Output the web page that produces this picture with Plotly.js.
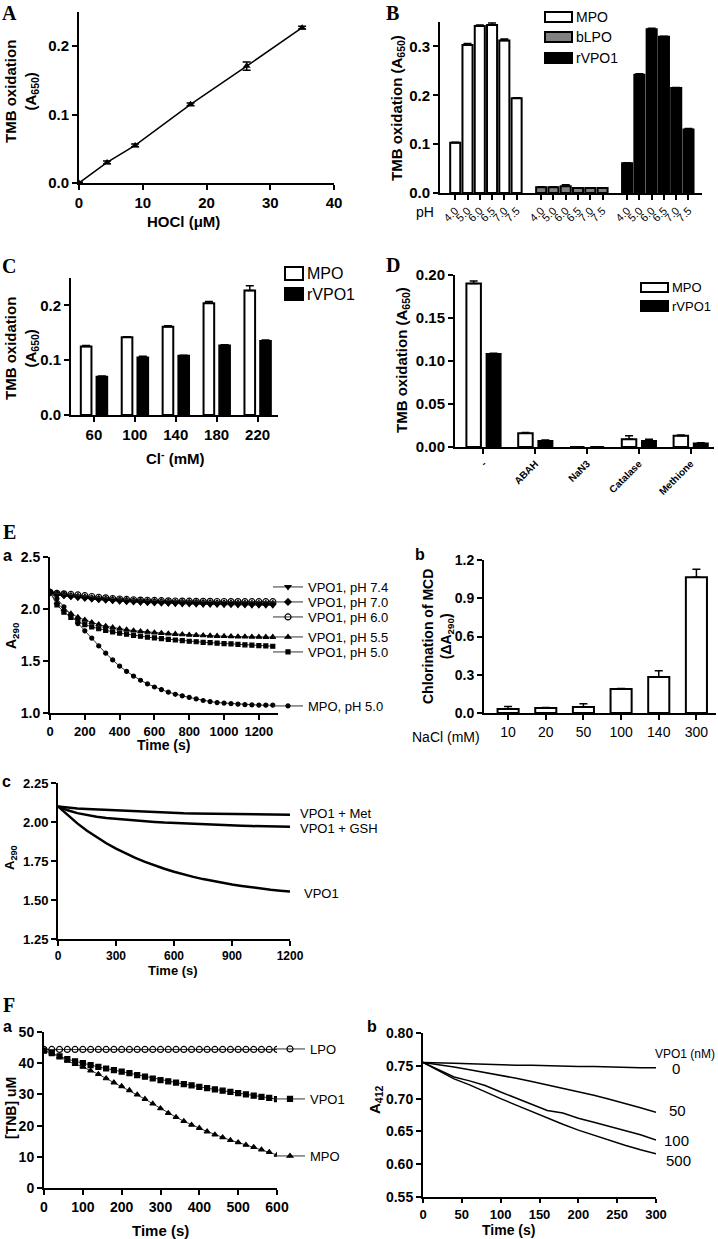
<!DOCTYPE html>
<html>
<head>
<meta charset="utf-8">
<script src="https://cdn.plot.ly/plotly-3.0.1.min.js"></script>
<style>
  body { margin: 0; background: #fff; }
  #fig { width: 718px; height: 1239px; }
</style>
</head>
<body>
<div id="fig"></div>
<script>
// ---- A: HOCl standard curve
var hoclConc = [0, 4.4, 8.8, 17.5, 26.3, 35.0];
var hoclA650 = [0.0, 0.030, 0.055, 0.115, 0.171, 0.227];
var hoclErr = [0.001, 0.002, 0.002, 0.002, 0.006, 0.002];

// ---- B: pH profile
var phLabels = ["4.0", "5.0", "6.0", "6.5", "7.0", "7.5"];
var bMPO = [0.103, 0.303, 0.342, 0.344, 0.312, 0.194];
var bMPOErr = [0.001, 0.003, 0.002, 0.004, 0.003, 0.001];
var bLPO = [0.012, 0.012, 0.014, 0.010, 0.010, 0.010];
var bLPOErr = [0.001, 0.001, 0.003, 0.001, 0.001, 0.001];
var bVPO1 = [0.061, 0.242, 0.335, 0.320, 0.215, 0.130];
var bVPO1Err = [0.001, 0.002, 0.002, 0.001, 0.001, 0.002];

// ---- C: chloride dependence
var clConc = ["60", "100", "140", "180", "220"];
var cMPO = [0.125, 0.142, 0.161, 0.204, 0.227];
var cMPOErr = [0.002, 0.001, 0.002, 0.003, 0.009];
var cVPO1 = [0.070, 0.105, 0.108, 0.127, 0.135];
var cVPO1Err = [0.001, 0.002, 0.001, 0.001, 0.002];

// ---- D: inhibitors
var inhibitors = ["-", "ABAH", "NaN3", "Catalase", "Methione"];
var dMPO = [0.190, 0.016, 0.0, 0.009, 0.013];
var dMPOErr = [0.003, 0.001, 0.0, 0.004, 0.001];
var dVPO1 = [0.108, 0.007, 0.0, 0.007, 0.004];
var dVPO1Err = [0.001, 0.001, 0.0, 0.002, 0.001];

// ---- E a: MCD chlorination kinetics
var eaTime = [0, 40, 80, 120, 160, 200, 240, 280, 320, 360, 400, 440, 480, 520, 560, 600, 640,
  680, 720, 760, 800, 840, 880, 920, 960, 1000, 1040, 1080, 1120, 1160, 1200, 1240, 1280];
var eaPH74 = [2.16, 2.14, 2.128, 2.118, 2.11, 2.102, 2.095, 2.089, 2.083, 2.078, 2.074, 2.07, 2.066,
  2.063, 2.06, 2.057, 2.055, 2.053, 2.051, 2.049, 2.047, 2.046, 2.044, 2.043, 2.042, 2.041, 2.04,
  2.039, 2.038, 2.037, 2.036, 2.035, 2.035];
var eaPH70 = [2.16, 2.145, 2.135, 2.125, 2.117, 2.11, 2.103, 2.097, 2.092, 2.087, 2.083, 2.079, 2.076,
  2.073, 2.07, 2.068, 2.066, 2.064, 2.062, 2.061, 2.06, 2.058, 2.057, 2.056, 2.055, 2.054, 2.053,
  2.052, 2.051, 2.05, 2.05, 2.049, 2.049];
var eaPH60 = [2.16, 2.15, 2.145, 2.14, 2.135, 2.128, 2.12, 2.113, 2.107, 2.101, 2.096, 2.092, 2.089,
  2.086, 2.084, 2.082, 2.08, 2.078, 2.077, 2.076, 2.075, 2.074, 2.073, 2.073, 2.072, 2.072, 2.071,
  2.071, 2.07, 2.07, 2.07, 2.07, 2.07];
var eaPH55 = [2.16, 2.06, 1.995, 1.955, 1.92, 1.895, 1.87, 1.85, 1.835, 1.822, 1.81, 1.80, 1.792,
  1.785, 1.779, 1.773, 1.768, 1.763, 1.759, 1.755, 1.751, 1.748, 1.745, 1.742, 1.74, 1.738, 1.736,
  1.734, 1.733, 1.732, 1.731, 1.73, 1.73];
var eaPH50 = [2.16, 2.04, 1.97, 1.92, 1.88, 1.85, 1.828, 1.81, 1.795, 1.78, 1.768, 1.757, 1.747,
  1.738, 1.73, 1.722, 1.715, 1.708, 1.702, 1.696, 1.69, 1.685, 1.68, 1.676, 1.672, 1.668, 1.664,
  1.66, 1.656, 1.652, 1.648, 1.645, 1.642];
var eaMPO = [2.16, 2.10, 2.02, 1.94, 1.86, 1.79, 1.72, 1.645, 1.575, 1.51, 1.45, 1.40, 1.355,
  1.315, 1.28, 1.25, 1.225, 1.20, 1.18, 1.165, 1.15, 1.135, 1.12, 1.11, 1.10, 1.095, 1.09,
  1.085, 1.08, 1.078, 1.076, 1.075, 1.075];

// ---- E b: NaCl dependence
var naclConc = ["10", "20", "50", "100", "140", "300"];
var ebMCD = [0.031, 0.040, 0.047, 0.188, 0.283, 1.065];
var ebErr = [0.020, 0.004, 0.026, 0.005, 0.048, 0.063];

// ---- E c: scavengers
var ecTime = [0, 50, 100, 150, 200, 250, 300, 350, 400, 450, 500, 550, 600, 650, 700, 750, 800,
  850, 900, 950, 1000, 1050, 1100, 1150, 1200];
var ecMet = [2.100, 2.092, 2.087, 2.083, 2.080, 2.078, 2.075, 2.072, 2.069, 2.066, 2.063, 2.060,
  2.058, 2.056, 2.055, 2.054, 2.053, 2.052, 2.051, 2.050, 2.049, 2.048, 2.048, 2.047, 2.047];
var ecGSH = [2.100, 2.075, 2.057, 2.043, 2.033, 2.026, 2.020, 2.014, 2.009, 2.004, 2.000, 1.996,
  1.993, 1.990, 1.987, 1.984, 1.982, 1.980, 1.978, 1.976, 1.974, 1.972, 1.971, 1.970, 1.969];
var ecVPO1 = [2.100, 2.043, 1.991, 1.944, 1.902, 1.864, 1.829, 1.798, 1.770, 1.744, 1.721, 1.700,
  1.681, 1.663, 1.648, 1.634, 1.621, 1.610, 1.599, 1.590, 1.581, 1.573, 1.566, 1.560, 1.554];

// ---- F a: TNB oxidation
var faTime = [0, 20, 40, 60, 80, 100, 120, 140, 160, 180, 200, 220, 240, 260, 280, 300, 320, 340,
  360, 380, 400, 420, 440, 460, 480, 500, 520, 540, 560, 580, 600];
var faLPO = [44.4, 44.4, 44.4, 44.4, 44.4, 44.4, 44.4, 44.4, 44.4, 44.4, 44.4, 44.4, 44.4, 44.4,
  44.4, 44.4, 44.4, 44.4, 44.4, 44.4, 44.4, 44.4, 44.4, 44.4, 44.4, 44.4, 44.4, 44.4, 44.4, 44.4, 44.4];
var faVPO1 = [44.0, 43.2, 42.2, 41.3, 40.6, 40.0, 39.4, 38.8, 38.3, 37.8, 37.3, 36.8, 36.2, 35.7,
  35.1, 34.6, 34.2, 33.8, 33.3, 32.9, 32.4, 32.0, 31.6, 31.2, 30.8, 30.4, 30.0, 29.6, 29.2, 28.9, 28.5];
var faMPO = [44.0, 43.3, 42.0, 40.7, 39.7, 38.8, 37.6, 36.5, 35.1, 33.8, 32.6, 31.3, 29.9, 28.5,
  27.0, 25.5, 24.0, 22.7, 21.4, 20.2, 19.2, 18.1, 17.1, 16.2, 15.3, 14.6, 13.8, 13.1, 12.3, 11.5, 10.6];

// ---- F b: VPO1 dose
var fbTime = [0, 20, 40, 60, 80, 100, 120, 140, 160, 180, 200, 220, 240, 260, 280, 300];
var fb0 = [0.755, 0.755, 0.754, 0.753, 0.752, 0.752, 0.751, 0.751, 0.750, 0.750, 0.749, 0.749,
  0.748, 0.748, 0.747, 0.747];
var fb50 = [0.755, 0.752, 0.748, 0.744, 0.740, 0.735, 0.731, 0.726, 0.721, 0.716, 0.711, 0.705,
  0.699, 0.693, 0.686, 0.679];
var fb100 = [0.755, 0.744, 0.733, 0.727, 0.720, 0.710, 0.701, 0.692, 0.682, 0.678, 0.670, 0.664,
  0.658, 0.652, 0.645, 0.637];
var fb500 = [0.755, 0.742, 0.730, 0.721, 0.710, 0.700, 0.690, 0.680, 0.670, 0.661, 0.652, 0.644,
  0.636, 0.629, 0.622, 0.616];

var W = 718, H = 1239;
var SANS = "Liberation Sans, Arial, sans-serif";
var SERIF = "Liberation Serif, Times New Roman, serif";

function px(x) { return x / W; }
function py(y) { return 1 - y / H; }
function domX(a, b) { return [a / W, b / W]; }
function domY(top, bottom) { return [1 - bottom / H, 1 - top / H]; }

function axis(extra, size, weight) {
  var a = {
    showline: true, linecolor: "black", linewidth: 2,
    ticks: "outside", ticklen: 5, tickwidth: 2, tickcolor: "black",
    showgrid: false, zeroline: false, fixedrange: true,
    tickfont: { family: SANS, size: size || 14, color: "black", weight: weight || "bold" }
  };
  return Object.assign(a, extra);
}

function upErr(err) {
  return { type: "data", array: err, arrayminus: err.map(function () { return 0; }),
    symmetric: false, color: "black", thickness: 1.5, width: 4 };
}

function bars(x, y, err, fill, xa, ya, offset, width) {
  return {
    type: "bar", x: x, y: y, xaxis: xa, yaxis: ya, showlegend: false,
    offset: offset, width: width,
    marker: { color: fill, line: { color: "black", width: 2 } },
    error_y: upErr(err), hoverinfo: "y"
  };
}

function kinetic(x, y, name, symbol, size, xa, ya, leg) {
  return {
    type: "scatter", mode: "lines+markers", x: x, y: y, name: name,
    xaxis: xa, yaxis: ya, legend: leg, showlegend: true,
    line: { color: "#333", width: 1 },
    marker: { symbol: symbol, size: size, color: "black", line: { color: "black", width: 1.2 } }
  };
}

function plainLine(x, y, xa, ya, w) {
  return { type: "scatter", mode: "lines", x: x, y: y, xaxis: xa, yaxis: ya,
    showlegend: false, line: { color: "black", width: w } };
}

// B: bars of the three enzymes sit in groups of six, one empty slot apart
function groupPos(g) { return phLabels.map(function (_, i) { return g * 7 + i; }); }
var bTickVals = groupPos(0).concat(groupPos(1), groupPos(2));
var bTickText = phLabels.concat(phLabels, phLabels);

var data = [
  {
    type: "scatter", mode: "lines+markers", x: hoclConc, y: hoclA650, xaxis: "x", yaxis: "y",
    showlegend: false, line: { color: "black", width: 1.5 },
    marker: { symbol: "triangle-up", size: 7, color: "black" },
    error_y: { type: "data", array: hoclErr, color: "black", thickness: 1.5, width: 4 }
  },
  bars(groupPos(0), bMPO, bMPOErr, "white", "x2", "y2", -0.41, 0.82),
  bars(groupPos(1), bLPO, bLPOErr, "#808080", "x2", "y2", -0.41, 0.82),
  bars(groupPos(2), bVPO1, bVPO1Err, "black", "x2", "y2", -0.41, 0.82),
  bars(clConc, cMPO, cMPOErr, "white", "x3", "y3", -0.32, 0.26),
  bars(clConc, cVPO1, cVPO1Err, "black", "x3", "y3", 0.065, 0.26),
  bars(inhibitors, dMPO, dMPOErr, "white", "x4", "y4", -0.33, 0.28),
  bars(inhibitors, dVPO1, dVPO1Err, "black", "x4", "y4", 0.06, 0.27),
  kinetic(eaTime, eaPH74, "VPO1, pH 7.4", "triangle-down", 5, "x5", "y5", "legend"),
  kinetic(eaTime, eaPH70, "VPO1, pH 7.0", "diamond", 5, "x5", "y5", "legend2"),
  kinetic(eaTime, eaPH60, "VPO1, pH 6.0", "circle-open", 6, "x5", "y5", "legend3"),
  kinetic(eaTime, eaPH55, "VPO1, pH 5.5", "triangle-up", 5, "x5", "y5", "legend4"),
  kinetic(eaTime, eaPH50, "VPO1, pH 5.0", "square", 4, "x5", "y5", "legend5"),
  kinetic(eaTime, eaMPO, "MPO, pH 5.0", "circle", 4, "x5", "y5", "legend6"),
  bars(naclConc, ebMCD, ebErr, "white", "x6", "y6", -0.28, 0.56),
  plainLine(ecTime, ecMet, "x7", "y7", 2.5),
  plainLine(ecTime, ecGSH, "x7", "y7", 2.5),
  plainLine(ecTime, ecVPO1, "x7", "y7", 2.5),
  kinetic(faTime, faLPO, "LPO", "circle-open", 6, "x8", "y8", "legend7"),
  kinetic(faTime, faVPO1, "VPO1", "square", 5, "x8", "y8", "legend8"),
  kinetic(faTime, faMPO, "MPO", "triangle-up", 5, "x8", "y8", "legend9"),
  plainLine(fbTime, fb0, "x9", "y9", 1.5),
  plainLine(fbTime, fb50, "x9", "y9", 1.5),
  plainLine(fbTime, fb100, "x9", "y9", 1.5),
  plainLine(fbTime, fb500, "x9", "y9", 1.5)
];

function ann(text, x, y, size, opts) {
  opts = opts || {};
  return {
    text: text, x: px(x), y: py(y), xref: "paper", yref: "paper", showarrow: false,
    xanchor: opts.xa || "center", yanchor: "middle", textangle: opts.angle || 0,
    font: { family: opts.family || SANS, size: size, color: "black", weight: opts.weight || "normal" }
  };
}
function letter(t, x, y) { return ann(t, x, y, 20, { family: SERIF, weight: "bold" }); }
function sub(t, x, y) { return ann(t, x, y, 16, { weight: "bold" }); }
function ytitle(t, x, y, size) { return ann(t, x, y, size || 15, { angle: -90, weight: "bold" }); }
function xtitle(t, x, y, size) { return ann(t, x, y, size || 15, { weight: "bold" }); }
function label(t, x, y, size) { return ann(t, x, y, size || 13, { xa: "left" }); }

var annotations = [
  letter("A", 9, 13), letter("B", 392, 13), letter("C", 9, 266), letter("D", 393, 265),
  letter("E", 9, 532), letter("F", 9, 1005),
  sub("a", 7, 555), sub("b", 420, 554), sub("c", 6, 781), sub("a", 7, 1026), sub("b", 372, 1026),
  ytitle("TMB oxidation<br>(A<sub>650</sub>)", 21, 92),
  xtitle("HOCl (μM)", 183, 222),
  ytitle("TMB oxidation (A<sub>650</sub>)", 397, 108),
  ann("pH", 425, 212, 14),
  ytitle("TMB oxidation<br>(A<sub>650</sub>)", 21, 349),
  xtitle("Cl<sup>-</sup> (mM)", 175, 457),
  ytitle("TMB oxidation (A<sub>650</sub>)", 403, 360),
  ytitle("A<sub>290</sub>", 12, 636, 14),
  xtitle("Time (s)", 163, 745, 14),
  ytitle("Chlorination of MCD<br>(ΔA<sub>290</sub>)", 438, 637, 14),
  ann("NaCl (mM)", 446, 737, 14),
  ytitle("A<sub>290</sub>", 10, 858, 13),
  xtitle("Time (s)", 173, 970, 13),
  label("VPO1 + Met", 298, 813), label("VPO1 + GSH", 298, 828), label("VPO1", 302, 893),
  ytitle("[TNB] uM", 11, 1108, 14),
  xtitle("Time (s)", 160, 1230),
  ytitle("A<sub>412</sub>", 375, 1100),
  xtitle("Time (s)", 508, 1230, 14),
  ann("VPO1 (nM)", 717, 1054, 12, { xa: "right" }),
  ann("0", 676, 1068, 15), ann("50", 677, 1110, 15), ann("100", 676, 1140, 15), ann("500", 678, 1160, 15)
];

// legend keys for the bar panels
var barKeys = [
  { name: "MPO", fill: "white", x0: 545, x1: 572, y0: 12, y1: 22, size: 14 },
  { name: "bLPO", fill: "#808080", x0: 545, x1: 572, y0: 32, y1: 42, size: 14 },
  { name: "rVPO1", fill: "black", x0: 545, x1: 572, y0: 53, y1: 63, size: 14 },
  { name: "MPO", fill: "white", x0: 285, x1: 303, y0: 267, y1: 280, size: 16 },
  { name: "rVPO1", fill: "black", x0: 285, x1: 303, y0: 288, y1: 300, size: 16 },
  { name: "MPO", fill: "white", x0: 641, x1: 668, y0: 283, y1: 292, size: 13 },
  { name: "rVPO1", fill: "black", x0: 641, x1: 668, y0: 301, y1: 311, size: 13 }
];
var shapes = barKeys.map(function (k) {
  return { type: "rect", xref: "paper", yref: "paper", x0: px(k.x0), x1: px(k.x1),
    y0: py(k.y1), y1: py(k.y0), fillcolor: k.fill, line: { color: "black", width: 2 } };
});
barKeys.forEach(function (k) {
  annotations.push(label(k.name, k.x1 + 2, (k.y0 + k.y1) / 2, k.size));
});

var layout = {
  width: W, height: H,
  margin: { l: 0, r: 0, t: 0, b: 0 },
  paper_bgcolor: "white", plot_bgcolor: "white",
  barmode: "overlay",
  showlegend: true,
  font: { family: SANS, color: "black" },
  annotations: annotations,
  shapes: shapes,

  xaxis: axis({ domain: domX(79, 334), anchor: "y", range: [0, 40], dtick: 10 }, 15),
  yaxis: axis({ domain: domY(12, 183), anchor: "x", range: [0, 0.25], dtick: 0.1, tickformat: ".1f" }, 15),

  xaxis2: axis({ domain: domX(440, 702), anchor: "y2", range: [-1.24, 20.1], tickvals: bTickVals,
    ticktext: bTickText, tickangle: -45 }, 11, "normal"),
  yaxis2: axis({ domain: domY(22, 193), anchor: "x2", range: [0, 0.35], dtick: 0.1, tickformat: ".1f" }, 15),

  xaxis3: axis({ domain: domX(71, 278), anchor: "y3", type: "category", range: [-0.56, 4.5] }, 15),
  yaxis3: axis({ domain: domY(278, 415), anchor: "x3", range: [0, 0.25], dtick: 0.1, tickformat: ".1f" }, 15),

  xaxis4: axis({ domain: domX(455, 714), anchor: "y4", type: "category", range: [-0.55, 4.45],
    tickangle: -45 }, 10),
  yaxis4: axis({ domain: domY(275, 447), anchor: "x4", range: [0, 0.2], dtick: 0.05, tickformat: ".2f" }, 15),

  xaxis5: axis({ domain: domX(50, 278), anchor: "y5", range: [0, 1310], dtick: 200 }, 13),
  yaxis5: axis({ domain: domY(557, 713), anchor: "x5", range: [1, 2.5], dtick: 0.5, tickformat: ".1f" }, 14),

  xaxis6: axis({ domain: domX(484, 716), anchor: "y6", type: "category", range: [-0.64, 5.52] }, 14, "normal"),
  yaxis6: axis({ domain: domY(560, 713), anchor: "x6", range: [0, 1.2], dtick: 0.3, tickformat: ".1f" }, 14),

  xaxis7: axis({ domain: domX(58, 290), anchor: "y7", range: [0, 1200], dtick: 300 }, 12),
  yaxis7: axis({ domain: domY(783, 939), anchor: "x7", range: [1.25, 2.25], dtick: 0.25, tickformat: ".2f" }, 13),

  xaxis8: axis({ domain: domX(44, 277), anchor: "y8", range: [0, 600], dtick: 100 }, 14),
  yaxis8: axis({ domain: domY(1032, 1188), anchor: "x8", range: [0, 50], dtick: 10 }, 14),

  xaxis9: axis({ domain: domX(423, 656), anchor: "y9", range: [0, 300], dtick: 50, ticklen: 4 }, 13),
  yaxis9: axis({ domain: domY(1033, 1197), anchor: "x9", range: [0.55, 0.8], dtick: 0.05, tickformat: ".2f" }, 14)
};

// one small legend per kinetic trace, placed beside the curves
var legendSpots = [
  ["legend", 310, 587], ["legend2", 310, 602], ["legend3", 310, 617], ["legend4", 310, 637],
  ["legend5", 310, 652], ["legend6", 310, 706],
  ["legend7", 312, 1049], ["legend8", 312, 1099], ["legend9", 312, 1156]
];
legendSpots.forEach(function (s) {
  layout[s[0]] = {
    x: px(s[1] - 42), y: py(s[2]), xanchor: "left", yanchor: "middle",
    bgcolor: "rgba(0,0,0,0)", borderwidth: 0, itemwidth: 30,
    font: { family: SANS, size: 13, color: "black" }
  };
});

Plotly.newPlot("fig", data, layout, { displayModeBar: false, staticPlot: true });
</script>
</body>
</html>
